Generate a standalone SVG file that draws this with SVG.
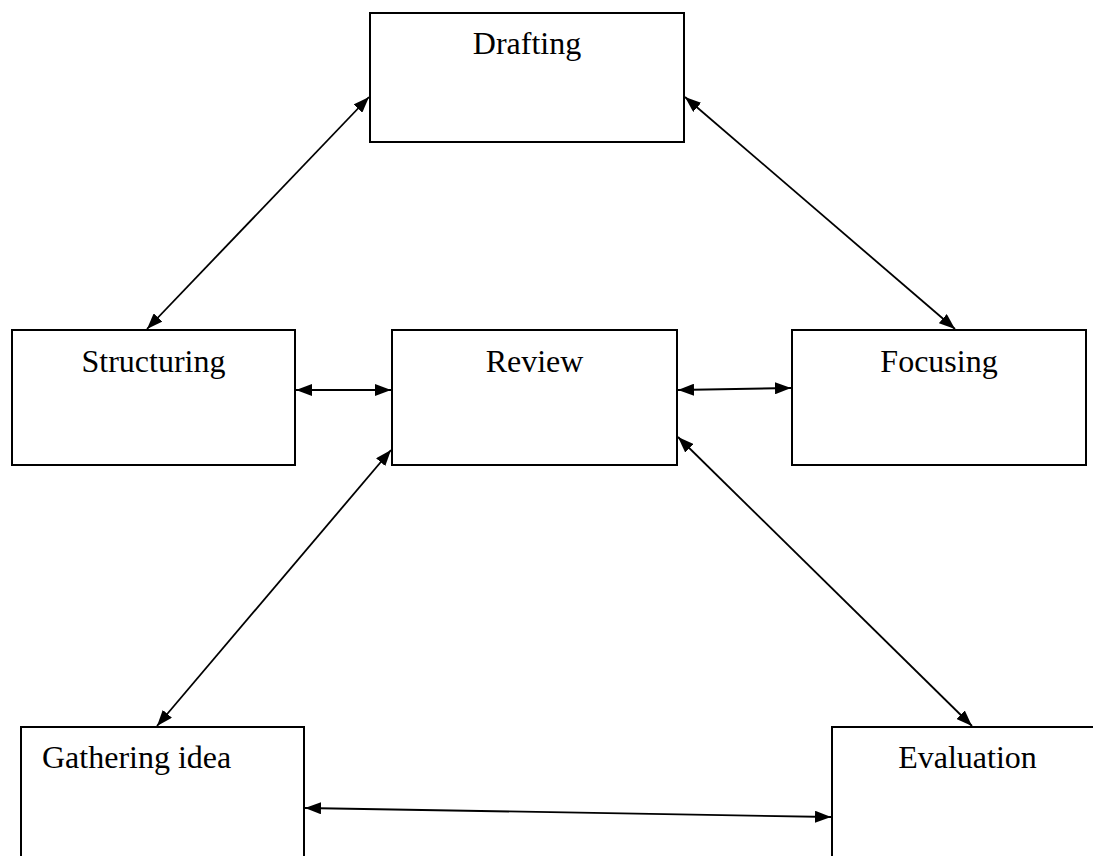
<svg xmlns="http://www.w3.org/2000/svg" width="1093" height="856" viewBox="0 0 1093 856">
  <style>
    .box { fill: #ffffff; stroke: #000000; stroke-width: 2; }
    .label { font-family: "Liberation Serif", "Times New Roman", serif; font-size: 32px; fill: #000000; }
    .mid { text-anchor: middle; }
    .link { stroke: #000000; stroke-width: 1.8; fill: none; marker-start: url(#head); marker-end: url(#head); }
  </style>
  <defs>
    <marker id="head" viewBox="0 0 16 12" refX="16" refY="6" markerWidth="16" markerHeight="12" markerUnits="userSpaceOnUse" orient="auto-start-reverse">
      <path d="M0,0 L16,6 L0,12 z" fill="#000000"/>
    </marker>
  </defs>
  <rect width="1093" height="856" fill="#ffffff"/>

  <g id="node-drafting">
    <rect class="box" x="370" y="13" width="314" height="129"/>
    <text class="label mid" x="527" y="54">Drafting</text>
  </g>
  <g id="node-structuring">
    <rect class="box" x="12" y="330" width="283" height="135"/>
    <text class="label mid" x="153.5" y="372">Structuring</text>
  </g>
  <g id="node-review">
    <rect class="box" x="392" y="330" width="285" height="135"/>
    <text class="label mid" x="534.5" y="372">Review</text>
  </g>
  <g id="node-focusing">
    <rect class="box" x="792" y="330" width="294" height="135"/>
    <text class="label mid" x="939" y="372">Focusing</text>
  </g>
  <g id="node-gathering">
    <rect class="box" x="21" y="727" width="283" height="140"/>
    <text class="label" x="42" y="768">Gathering idea</text>
  </g>
  <g id="node-evaluation">
    <rect class="box" x="832" y="727" width="271" height="140"/>
    <text class="label mid" x="967.5" y="768">Evaluation</text>
  </g>

  <g id="connectors">
    <line class="link" x1="369" y1="97" x2="147" y2="329"/>
    <line class="link" x1="685" y1="97" x2="955" y2="329"/>
    <line class="link" x1="296" y1="390" x2="391" y2="390"/>
    <line class="link" x1="678" y1="390" x2="791" y2="388"/>
    <line class="link" x1="391" y1="450" x2="157" y2="726"/>
    <line class="link" x1="678" y1="437" x2="972" y2="726"/>
    <line class="link" x1="305" y1="808" x2="831" y2="817"/>
  </g>
</svg>
